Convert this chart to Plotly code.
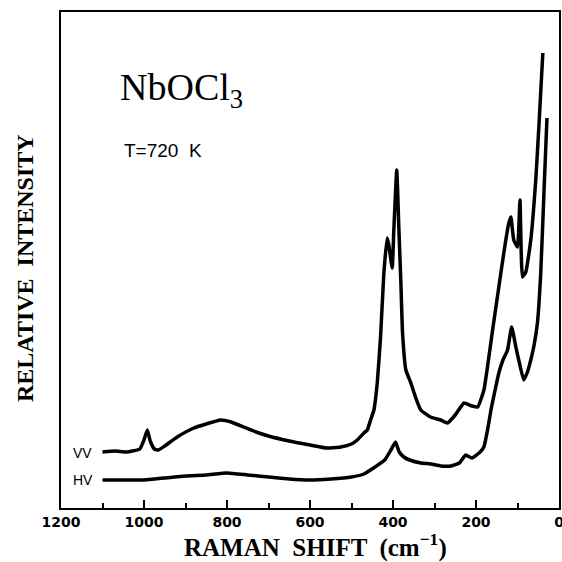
import plotly.graph_objects as go

# Raman shift (cm^-1) and relative intensity (arbitrary units)
vv_shift = [1100, 1070, 1040, 1010, 1000, 992, 985, 975, 965, 950, 920, 880, 850, 816, 790,
            760, 730, 700, 650, 600, 560, 526, 500, 486, 470, 462, 454, 446, 438, 430, 422,
            414, 410, 402, 398, 391, 386, 381, 377, 369, 357, 345, 333, 310, 285, 269, 250,
            229, 210, 196, 181, 170, 160, 145, 133, 122, 116, 109, 100, 94, 88, 80, 68, 56,
            48, 39]
vv_int = [56, 57, 56, 59, 68, 78, 67, 59, 58, 62, 71, 80, 84, 88, 86,
          81, 76, 72, 67, 63, 60, 61, 64, 68, 75, 78, 88, 98, 125, 171, 235,
          270, 263, 240, 278, 338, 281, 225, 175, 138, 125, 110, 98, 91, 88, 85, 93,
          105, 102, 101, 118, 148, 178, 221, 255, 283, 291, 268, 261, 308, 231, 236, 268, 328,
          385, 455]

hv_shift = [1100, 1050, 1000, 950, 900, 850, 800, 750, 700, 650, 600, 550, 500, 470, 447,
            420, 405, 394, 385, 374, 360, 333, 309, 285, 260, 240, 225, 210, 190, 181, 170,
            164, 155, 145, 135, 124, 114, 104, 97, 85, 76, 68, 60, 52, 44, 36, 29]
hv_int = [28, 28, 28, 30, 32, 33, 35, 33, 31, 29, 28, 29, 31, 34, 40,
          48, 58, 66, 56, 51, 48, 45, 44, 42, 42, 45, 53, 50, 56, 61, 83,
          98, 116, 135, 148, 158, 181, 161, 148, 128, 136, 148, 163, 185, 235, 318, 390]

x_ticks = [1200, 1000, 800, 600, 400, 200, 0]

fig = go.Figure()
for xs, ys in [(vv_shift, vv_int), (hv_shift, hv_int)]:
    fig.add_trace(go.Scatter(x=xs, y=ys, mode="lines",
                             line=dict(color="black", width=3.5, shape="spline", smoothing=0.4),
                             showlegend=False, hoverinfo="skip"))

fig.update_layout(
    width=562, height=562,
    margin=dict(l=61, r=3, t=12, b=54, autoexpand=False),
    paper_bgcolor="white", plot_bgcolor="white",
    xaxis=dict(range=[1200, 0], tickvals=x_ticks, ticktext=[str(v) for v in x_ticks],
               ticks="inside", ticklen=8, tickwidth=1.5, tickcolor="black",
               minor=dict(ticks="inside", ticklen=5, tickwidth=1.5, tickcolor="black", dtick=100),
               showline=True, linewidth=2, linecolor="black", mirror=True,
               showgrid=False, zeroline=False, ticklabeloverflow="allow", automargin=False,
               tickfont=dict(family="DejaVu Sans", size=14, color="black", weight="bold")),
    yaxis=dict(range=[0, 496], showticklabels=False, ticks="", automargin=False,
               showline=True, linewidth=2, linecolor="black", mirror=True,
               showgrid=False, zeroline=False),
)

fig.add_annotation(text="RELATIVE  INTENSITY", xref="paper", yref="paper",
                   x=(25 - 61) / 498, y=(508 - 268) / 496, textangle=-90,
                   showarrow=False, xanchor="center", yanchor="middle",
                   font=dict(family="Liberation Serif", size=24, color="black", weight="bold"))
fig.add_annotation(text="RAMAN  SHIFT  (cm<sup>−1</sup>)", xref="paper", yref="paper",
                   x=(315 - 61) / 498, y=(508 - 545) / 496,
                   showarrow=False, xanchor="center", yanchor="middle",
                   font=dict(family="Liberation Serif", size=25, color="black", weight="bold"))
fig.add_annotation(text="NbOCl<sub>3</sub>", xref="paper", yref="paper",
                   x=(118 - 61) / 498, y=(508 - 90) / 496,
                   showarrow=False, xanchor="left", yanchor="middle",
                   font=dict(family="Liberation Serif", size=38, color="black"))
fig.add_annotation(text="T=720  K", xref="paper", yref="paper",
                   x=(122 - 61) / 498, y=(508 - 150) / 496,
                   showarrow=False, xanchor="left", yanchor="middle",
                   font=dict(family="Liberation Sans", size=19, color="black"))
fig.add_annotation(text="VV", xref="paper", yref="paper",
                   x=(71 - 61) / 498, y=(508 - 453) / 496,
                   showarrow=False, xanchor="left", yanchor="middle",
                   font=dict(family="Liberation Sans", size=14, color="black"))
fig.add_annotation(text="HV", xref="paper", yref="paper",
                   x=(71 - 61) / 498, y=(508 - 480) / 496,
                   showarrow=False, xanchor="left", yanchor="middle",
                   font=dict(family="Liberation Sans", size=14, color="black"))

fig.write_html("out.html")
